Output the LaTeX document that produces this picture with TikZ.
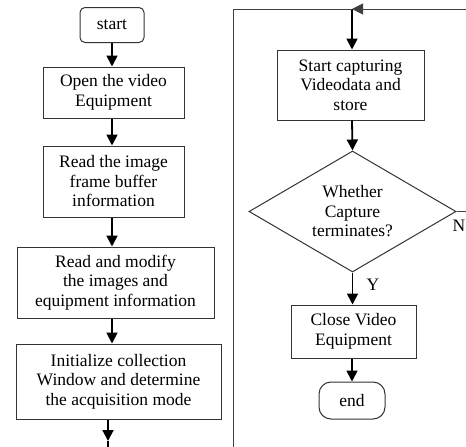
\documentclass[tikz,border=0pt]{standalone}
\usepackage{fontspec}
\setmainfont{Liberation Serif}
\usetikzlibrary{arrows.meta,shapes.geometric}

\begin{document}
\begin{tikzpicture}[x=1pt,y=-1pt,
    box/.style={draw=black!80, line width=1pt, inner sep=0pt, align=center,
        font=\fontsize{17.5}{19.5}\selectfont},
    lbl/.style={inner sep=0pt, font=\fontsize{17.5}{19.5}\selectfont},
    flow/.style={line width=1.8pt, -{Triangle[length=11pt,width=11pt]}},
    loopline/.style={draw=black!75, line width=1pt}]

    \useasboundingbox (0,0) rectangle (466,447);

    % 左侧流程
    \node[box, rounded corners=5pt, minimum width=64, minimum height=35] (start) at (112,25) {start};
    \node[box, minimum width=141, minimum height=51] (open) at (113.5,92.5) {Open the video\\Equipment};
    \node[box, minimum width=141, minimum height=71] (readbuf) at (113.5,181.5) {Read the image\\frame buffer\\information};
    \node[box, minimum width=197, minimum height=71] (modify) at (115.5,282.5) {Read and modify\\the images and\\equipment information};
    \node[box, minimum width=205, minimum height=75] (init) at (118.5,381.5) {Initialize collection\\Window and determine\\the acquisition mode};

    % 右侧流程
    \node[box, minimum width=147, minimum height=70] (capture) at (350.5,85) {Start capturing\\Videodata and\\store};
    \node[box, diamond, aspect=1.7, minimum width=207, minimum height=121] (dec) at (352.5,211.5) {Whether\\Capture\\terminates?};
    \node[box, minimum width=125, minimum height=53] (close) at (353.5,331.5) {Close Video\\Equipment};
    \node[box, rounded corners=12pt, minimum width=66, minimum height=37] (end) at (352,400.5) {end};

    % 标注
    \node[lbl] (yes) at (373,285) {Y};
    \node[lbl, anchor=west] (no) at (452.5,226) {N};

    % 辅助点
    \coordinate (b1) at (108,441);
    \coordinate (b2) at (108,447);
    \coordinate (lb) at (233,447);
    \coordinate (lt) at (233,9);
    \coordinate (jn) at (352,9);
    \coordinate (rt) at (466,9);
    \coordinate (nr) at (466,211.5);

    % 绘制箭头
    \draw[flow] (start.south) -- (start.south |- open.north);
    \draw[flow] (open.south -| start.south) -- (start.south |- readbuf.north);
    \draw[flow] (readbuf.south -| start.south) -- (start.south |- modify.north);
    \draw[flow] (modify.south -| start.south) -- (start.south |- init.north);
    \draw[flow] (b1 |- init.south) -- (b1);
    \draw[line width=1.8pt] (b1) -- (b2);

    \draw[flow] (jn) -- (jn |- capture.north);
    \draw[flow] (capture.south -| jn) -- (dec.north);
    \draw[flow] (dec.south) -- (dec.south |- close.north);
    \draw[flow] (close.south -| end.north) -- (end.north);

    % 回路
    \draw[loopline] (lb) -- (lt) -- (jn);
    \draw[loopline, -{Triangle[length=11pt,width=11pt]}] (rt) -- (jn);
    \draw[loopline] (dec.east) -- (nr);

\end{tikzpicture}
\end{document}
